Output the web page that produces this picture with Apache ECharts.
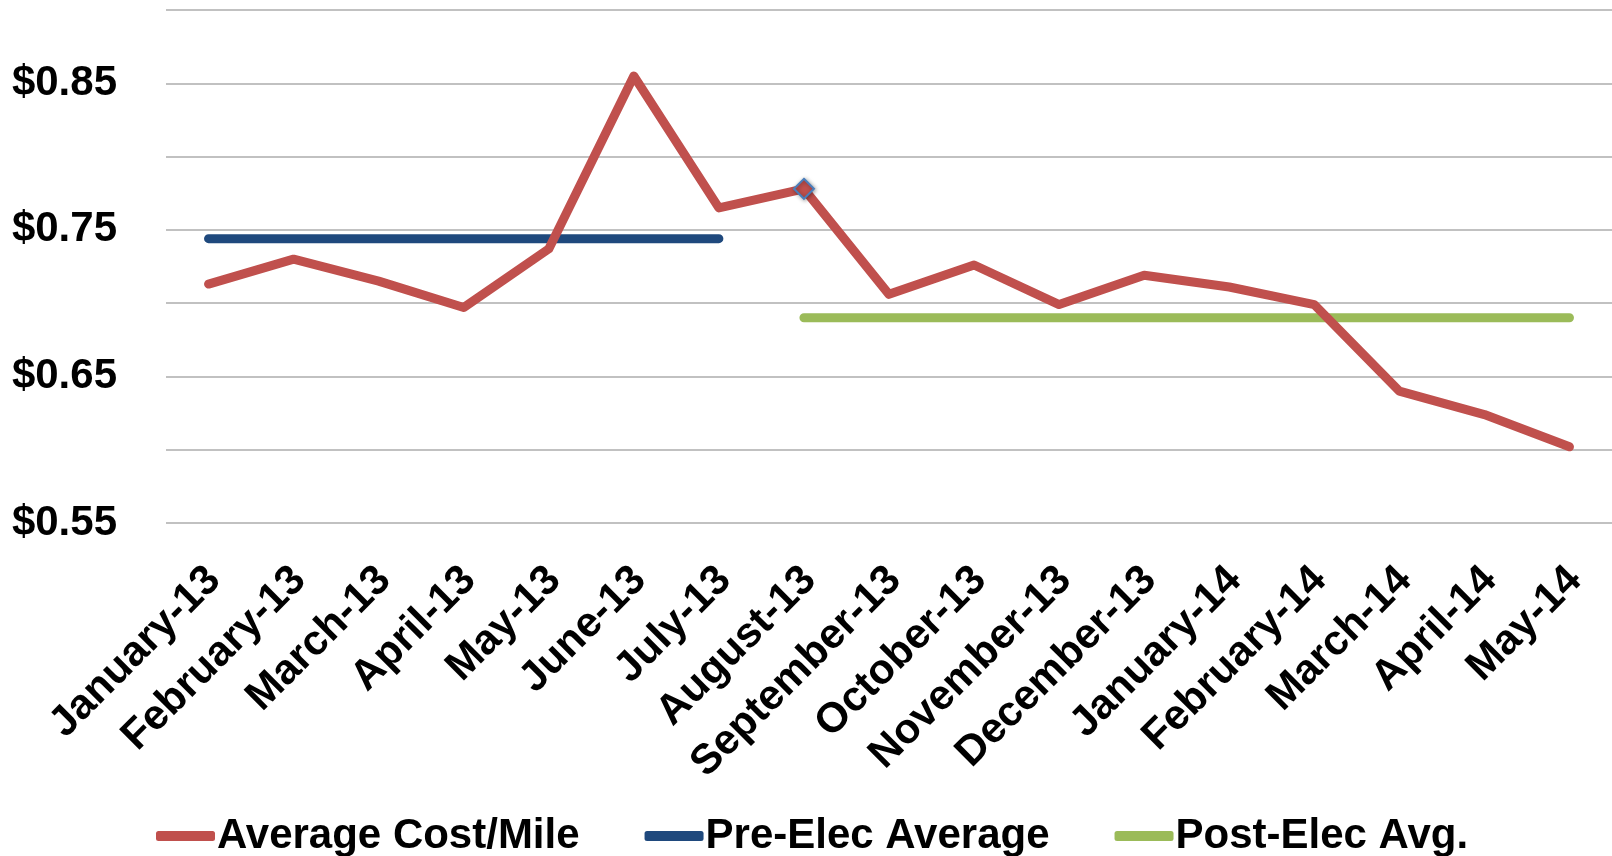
<!DOCTYPE html>
<html>
<head>
<meta charset="utf-8">
<script src="https://cdn.jsdelivr.net/npm/echarts@6/dist/echarts.min.js"></script>
<style>
  html, body { margin: 0; padding: 0; background: #ffffff; }
  #chart { width: 1612px; height: 856px; }
</style>
</head>
<body>
<div id="chart"></div>
<script>
// Monthly average cost per mile, Jan 2013 – May 2014
const months = [
  'January-13', 'February-13', 'March-13', 'April-13', 'May-13', 'June-13',
  'July-13', 'August-13', 'September-13', 'October-13', 'November-13',
  'December-13', 'January-14', 'February-14', 'March-14', 'April-14', 'May-14'
];
const avgCostPerMile = [
  0.713, 0.730, 0.715, 0.697, 0.737, 0.855, 0.765, 0.778, 0.706,
  0.726, 0.699, 0.719, 0.711, 0.699, 0.640, 0.624, 0.602
];
// Pre-election average (Jan–Jul 2013) and post-election average (Aug 2013 – May 2014)
const preElecAvg = [0.744, 0.744, 0.744, 0.744, 0.744, 0.744, 0.744,
  '-', '-', '-', '-', '-', '-', '-', '-', '-', '-'];
const postElecAvg = ['-', '-', '-', '-', '-', '-', '-',
  0.690, 0.690, 0.690, 0.690, 0.690, 0.690, 0.690, 0.690, 0.690, 0.690];
const yTickLabels = { '0.55': '$0.55', '0.65': '$0.65', '0.75': '$0.75', '0.85': '$0.85' };
const highlightMonth = 'August-13';

const FONT = "'Liberation Sans', Arial, Helvetica, sans-serif";
const RED = '#C0504D', BLUE = '#1F497D', GREEN = '#9BBB59';

const costData = avgCostPerMile.map((v, i) => months[i] === highlightMonth
  ? { value: v, symbol: 'diamond', symbolSize: 20,
      itemStyle: { color: RED, borderColor: '#4A7EBB', borderWidth: 2,
                   shadowBlur: 4, shadowColor: 'rgba(0,0,0,0.35)', shadowOffsetX: 1, shadowOffsetY: 1 } }
  : v);

const chart = echarts.init(document.getElementById('chart'), null, { renderer: 'canvas' });
chart.setOption({
  animation: false,
  backgroundColor: '#ffffff',
  grid: { left: 166, top: 10, width: 1448, height: 513, containLabel: false },
  legend: {
    left: 151,
    top: 810,
    itemWidth: 59,
    itemHeight: 10,
    itemGap: 65,
    icon: 'roundRect',
    textStyle: { fontFamily: FONT, fontWeight: 'bold', fontSize: 42, color: '#000', padding: [0, 0, 0, -3] },
    data: ['Average Cost/Mile', 'Pre-Elec Average', 'Post-Elec Avg.']
  },
  xAxis: {
    type: 'category',
    data: months,
    boundaryGap: true,
    axisLine: { show: false },
    axisTick: { show: false },
    axisLabel: {
      interval: 0,
      rotate: 45,
      align: 'right',
      verticalAlign: 'top',
      lineHeight: 16,
      margin: 45,
      fontFamily: FONT,
      fontWeight: 'bold',
      fontSize: 42,
      color: '#000'
    }
  },
  yAxis: {
    type: 'value',
    min: 0.55,
    max: 0.90,
    interval: 0.05,
    axisLine: { show: false },
    axisTick: { show: false },
    splitLine: { lineStyle: { color: '#adadad', width: 1.6 } },
    axisLabel: {
      margin: 49,
      fontFamily: FONT,
      fontWeight: 'bold',
      fontSize: 42,
      color: '#000',
      formatter: v => yTickLabels[v.toFixed(2)] || ''
    }
  },
  series: [
    {
      name: 'Average Cost/Mile',
      type: 'line',
      data: costData,
      symbol: 'none',
      itemStyle: { color: RED },
      lineStyle: { color: RED, width: 9, cap: 'round', join: 'round' },
      z: 3
    },
    {
      name: 'Pre-Elec Average',
      type: 'line',
      data: preElecAvg,
      symbol: 'none',
      itemStyle: { color: BLUE },
      lineStyle: { color: BLUE, width: 9, cap: 'round' },
      z: 2
    },
    {
      name: 'Post-Elec Avg.',
      type: 'line',
      data: postElecAvg,
      symbol: 'none',
      itemStyle: { color: GREEN },
      lineStyle: { color: GREEN, width: 9, cap: 'round' },
      z: 2
    }
  ]
});
</script>
</body>
</html>
